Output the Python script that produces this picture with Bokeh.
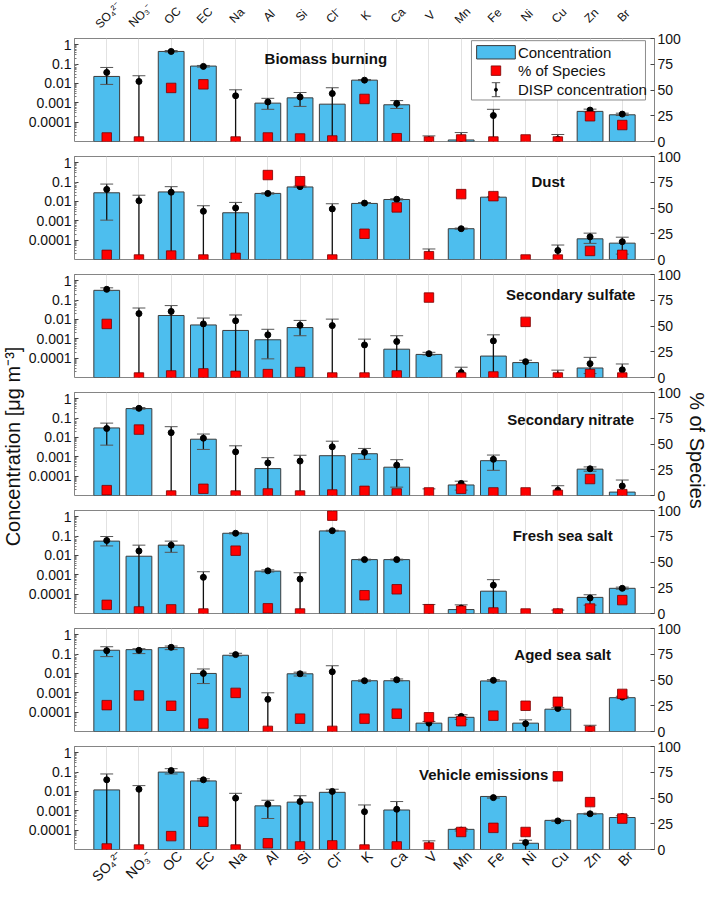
import math
import numpy as np
from bokeh.plotting import figure
from bokeh.models import (Range1d, LinearScale, LinearAxis, FixedTicker, Grid,
                          CustomJSTickFormatter, Label, ColumnDataSource)
from bokeh.layouts import column, row
from bokeh.embed import file_html
from bokeh.resources import INLINE
from bokeh.core.properties import value

N = float("nan")

# ---------------- data ----------------
species = ["SO₄²⁻", "NO₃⁻", "OC", "EC", "Na", "Al", "Si", "Cl⁻", "K", "Ca",
           "V", "Mn", "Fe", "Ni", "Cu", "Zn", "Br"]
conc_ticks = [0.0001, 0.001, 0.01, 0.1, 1]
pct_ticks = [0, 25, 50, 75, 100]
legend_labels = ["Concentration", "% of Species", "DISP concentration"]

# Biomass burning
bb_conc = [0.023, N, 0.45, 0.079, N, 0.00096, 0.0018, 0.00085, 0.0148, 0.00079, N, 1.2e-5, N, N, N, 0.00036, 0.00024]
bb_disp = [0.037, 0.0127, 0.45, 0.076, 0.0023, 0.0011, 0.0020, 0.0030, 0.0148, 0.00093, 1.2e-5, 1.4e-5, 0.00022, N, 1.3e-5, 0.00042, 0.00026]
bb_lo = [0.0089, N, 0.42, 0.07, N, 0.00046, 0.00065, N, 0.0140, 0.00051, N, N, N, N, N, 0.00034, 0.00022]
bb_hi = [0.067, 0.025, 0.50, 0.085, 0.0047, 0.0017, 0.0034, 0.006, 0.0160, 0.0013, 1.95e-5, 2.9e-5, 0.00046, N, 2.3e-5, 0.00047, 0.00029]
bb_pct = [3.9, 0, 52, 55.5, 0, 3.9, 2.9, 1, 41.3, 3.2, 0, 2, 0, 2, 0, 24.5, 16]

# Dust
du_conc = [0.028, N, 0.031, N, 0.0026, 0.026, 0.056, N, 0.0079, 0.0126, N, 0.00039, 0.0166, N, N, 0.000117, 7.0e-5]
du_disp = [0.042, 0.0108, 0.030, 0.0031, 0.0046, 0.026, 0.058, 0.0041, 0.0082, 0.013, 1.5e-5, 0.00039, 0.0166, N, 2.9e-5, 0.000148, 8.3e-5]
du_lo = [0.00108, N, N, N, N, 0.024, 0.054, N, 0.0078, 0.012, N, 0.00037, 0.0158, N, N, 6.8e-5, 1.9e-5]
du_hi = [0.079, 0.021, 0.058, 0.006, 0.0089, 0.028, 0.062, 0.0076, 0.0088, 0.0138, 3.5e-5, 0.00042, 0.0175, N, 5.6e-5, 0.00023, 0.000142]
du_pct = [4.5, 0, 3.8, 0, 1.6, 82, 76, 0, 25, 50.6, 3.2, 63.5, 61.5, 0, 0, 8.3, 4.5]

# Secondary sulfate
ss_conc = [0.32, N, 0.016, 0.0052, 0.0027, 0.00089, 0.0038, N, N, 0.00029, 0.000156, N, 0.000128, 5.9e-5, N, 3.1e-5, N]
ss_disp = [0.36, 0.020, 0.026, 0.0059, 0.0085, 0.0016, 0.005, 0.0048, 0.00048, 0.00072, 0.00017, 1.8e-5, 0.00078, 6.6e-5, 1.2e-5, 5.2e-5, 2.5e-5]
ss_lo = [0.31, N, N, N, N, 9.2e-5, 0.00144, N, N, N, 0.000145, N, N, N, N, 1.6e-5, N]
ss_hi = [0.43, 0.039, 0.052, 0.0118, 0.017, 0.0031, 0.0089, 0.0104, 0.00096, 0.00144, 0.00020, 3.4e-5, 0.0016, 7.8e-5, 2.4e-5, 0.00011, 5e-5]
ss_pct = [52, 0, 2, 4, 1.6, 3.3, 5.3, 0, 0, 2, 77.6, 0, 1, 54, 0, 3.3, 0]

# Secondary nitrate
sn_conc = [0.031, 0.31, N, 0.0081, N, 0.000246, N, 0.00114, 0.00144, 0.00029, N, 3.5e-5, 0.00063, N, N, 0.00023, 1.5e-5]
sn_disp = [0.029, 0.32, 0.0177, 0.0091, 0.0018, 0.00048, 0.0006, 0.0033, 0.0017, 0.00037, 1.6e-5, 4.2e-5, 0.00074, N, 1.85e-5, 0.00024, 3.1e-5]
sn_lo = [0.004, 0.29, N, 0.0024, N, N, N, N, 0.00074, 2.7e-5, N, 1.9e-5, 0.0002, N, N, 0.00018, N]
sn_hi = [0.055, 0.35, 0.036, 0.015, 0.0037, 0.0009, 0.0012, 0.0064, 0.0027, 0.00071, 2.2e-5, 5.5e-5, 0.00123, N, 3.2e-5, 0.0003, 6.3e-5]
sn_pct = [5.2, 64, 0, 6.5, 0, 2, 0, 1, 4.5, 2, 3, 6.5, 3, 3, 0.6, 16, 1.3]

# Fresh sea salt
fs_conc = [0.055, 0.0091, 0.034, N, 0.14, 0.00155, N, 0.185, 0.0061, 0.0061, N, 1.6e-5, 0.000142, N, N, 6.8e-5, 0.0002]
fs_disp = [0.059, 0.017, 0.034, 0.00074, 0.14, 0.0016, 0.0006, 0.19, 0.0061, 0.0061, 1.5e-5, 1.9e-5, 0.00029, N, 1.2e-5, 6.3e-5, 0.0002]
fs_lo = [0.031, N, 0.0145, N, 0.13, 0.0014, N, 0.18, 0.0058, 0.0058, N, N, N, N, N, 2.7e-5, 0.00018]
fs_hi = [0.095, 0.034, 0.055, 0.00144, 0.15, 0.0018, 0.00128, 0.20, 0.0064, 0.0064, 2.9e-5, 2.8e-5, 0.00056, N, 1.5e-5, 9.3e-5, 0.00023]
fs_pct = [8.4, 2, 4, 0, 61, 5, 0, 95, 17.7, 23.5, 4.2, 2.6, 1, 0, 0, 4.8, 13]

# Aged sea salt
as_conc = [0.158, 0.17, 0.215, 0.01, 0.087, N, 0.0096, N, 0.0042, 0.0042, 2.7e-5, 5.4e-5, 0.0041, 2.7e-5, 0.000142, N, 0.00056]
as_disp = [0.15, 0.157, 0.224, 0.01, 0.094, 0.00046, 0.0096, 0.0122, 0.0042, 0.0047, 2.7e-5, 6e-5, 0.0044, 2.5e-5, 0.000155, 1.3e-5, 0.0006]
as_lo = [0.074, 0.106, 0.17, 0.003, 0.081, N, 0.0074, N, 0.0038, 0.0042, N, 4.2e-5, 0.0040, N, 0.00014, N, 0.00054]
as_hi = [0.24, 0.19, 0.26, 0.017, 0.11, 0.001, 0.0116, 0.025, 0.0046, 0.0052, 3.3e-5, 7.3e-5, 0.0048, 4.0e-5, 0.00017, 2.1e-5, 0.00066]
as_pct = [25.6, 35, 25, 7.7, 37.5, 0.6, 12.5, 0.6, 12.5, 17.3, 13.8, 10, 15.4, 25, 28.8, 0.6, 36.5]

# Vehicle emissions
ve_conc = [0.012, N, 0.1, 0.035, N, 0.0018, 0.0028, 0.009, N, 0.0011, N, 0.00011, 0.0055, 2.1e-5, 0.00032, 0.0007, 0.00045]
ve_disp = [0.04, 0.013, 0.12, 0.04, 0.0045, 0.0022, 0.003, 0.01, 0.0009, 0.0012, 1.5e-5, 0.0001, 0.0048, 2.3e-5, 0.0003, 0.0007, 0.0005]
ve_lo = [N, N, 0.08, 0.035, N, 0.0004, N, N, N, N, N, 9e-5, 0.0045, N, 0.00028, 0.00065, 0.00045]
ve_hi = [0.08, 0.02, 0.15, 0.045, 0.008, 0.0035, 0.006, 0.013, 0.002, 0.003, 2.8e-5, 0.00012, 0.0052, 3e-5, 0.00033, 0.00075, 0.00055]
ve_pct = [1, 0, 13, 27, 0, 6, 3, 4, 0, 3, 2, 17, 21, 17, 71, 46, 30]

panels = [
    ("Biomass burning", bb_conc, bb_disp, bb_lo, bb_hi, bb_pct),
    ("Dust", du_conc, du_disp, du_lo, du_hi, du_pct),
    ("Secondary sulfate", ss_conc, ss_disp, ss_lo, ss_hi, ss_pct),
    ("Secondary nitrate", sn_conc, sn_disp, sn_lo, sn_hi, sn_pct),
    ("Fresh sea salt", fs_conc, fs_disp, fs_lo, fs_hi, fs_pct),
    ("Aged sea salt", as_conc, as_disp, as_lo, as_hi, as_pct),
    ("Vehicle emissions", ve_conc, ve_disp, ve_lo, ve_hi, ve_pct),
]

# ---------------- layout / style ----------------
# title placement (x in category units, y in % units)
title_pos = [(7.8, 81), (14.7, 76), (15.4, 81), (15.4, 74), (15.15, 75.5), (15.15, 75), (12.7, 73)]
# hand-built legend frame in panel 1 (x in category units, y in % units)
LEG_BOX = dict(left=12.32, right=17.72, bottom=40.3, top=97.9)
LEG_ROWS = [86.6, 68.8, 50.3]
LEG_GX, LEG_TX = 13.08, 13.76

FONT = "Liberation Sans"
FRAME_W, FRAME_H = 580, 103
PX_PER_UNIT = FRAME_W / 18.0
BAR_COLOR = "#4DBEEE"
EDGE = "#3c3c3c"
FRAME_COL = "#858585"
FLOOR = 1e-5
LEFT_W, RIGHT_W = 25, 26
BORDER_L, BORDER_R = 46, 27
HEAD_H = 30
TOP_B, MID_T, MID_B, BOT_B = 8, 8, 7, 33
TOP_FS, CAT_FS = 12, 14

minor = [m * 10.0 ** d for d in range(-5, 1) for m in range(2, 10) if m * 10.0 ** d < 2.1]


def est_w(s, fs):
    w = 0.0
    for c in s:
        if c.isascii() and c.isupper():
            w += 0.6 * fs
        elif c.isascii():
            w += 0.5 * fs
        else:
            w += 0.3 * fs
    return w


def bottom_label_axis():
    # rotated category labels; each tick nudged so the rotated word sits centred on its column
    ticks = [i + 1 + 0.08 + 0.354 * est_w(s, CAT_FS) / PX_PER_UNIT
             for i, s in enumerate(species)]
    ax = LinearAxis(ticker=FixedTicker(ticks=ticks),
                    major_label_overrides={t: s for t, s in zip(ticks, species)},
                    major_label_orientation=math.pi / 4)
    ax.axis_line_color = None
    ax.major_tick_line_color = None
    ax.minor_tick_line_color = None
    ax.major_tick_in = 0
    ax.major_tick_out = 0
    ax.major_label_text_font = FONT
    ax.major_label_text_font_size = f"{CAT_FS}px"
    ax.major_label_text_color = "#111111"
    ax.major_label_standoff = 4
    return ax


def make_header():
    h = figure(frame_width=FRAME_W, frame_height=HEAD_H,
               x_range=Range1d(0, 18), y_range=Range1d(0, HEAD_H),
               x_axis_type=None, y_axis_type=None, output_backend="svg",
               toolbar_location=None, min_border_left=BORDER_L,
               min_border_right=BORDER_R, min_border_top=0, min_border_bottom=0)
    h.outline_line_color = None
    for i, s in enumerate(species):
        h.add_layout(Label(x=i + 1 + 0.04, y=HEAD_H / 2, text=s, angle=math.pi / 4,
                           text_align="center", text_baseline="middle",
                           text_font=FONT, text_font_size=f"{TOP_FS}px",
                           text_color="#111111"))
    return h


def make_panel(k, title, conc, disp, lo, hi, pct):
    top = k == 0
    bottom = k == len(panels) - 1
    p = figure(frame_width=FRAME_W, frame_height=FRAME_H,
               x_range=Range1d(0, 18), y_range=Range1d(FLOOR, 2.1),
               x_axis_type=None, y_axis_type="log",
               output_backend="svg", toolbar_location=None,
               min_border_left=BORDER_L, min_border_right=BORDER_R,
               min_border_top=TOP_B if top else MID_T,
               min_border_bottom=BOT_B if bottom else MID_B)
    p.outline_line_color = FRAME_COL
    p.outline_line_width = 1
    p.extra_y_ranges = {"pct": Range1d(0, 100)}
    p.extra_y_scales = {"pct": LinearScale()}

    p.add_layout(Grid(dimension=0, ticker=FixedTicker(ticks=list(range(1, len(species) + 1))),
                      grid_line_color="#e2e2e2"))
    p.ygrid.grid_line_color = None
    if bottom:
        p.add_layout(bottom_label_axis(), "below")

    ya = p.yaxis[0]
    ya.ticker = FixedTicker(ticks=conc_ticks, minor_ticks=minor)
    ya.formatter = CustomJSTickFormatter(code="return tick.toString();")
    ya.axis_line_color = None
    ya.major_tick_in = 4
    ya.major_tick_out = 0
    ya.minor_tick_in = 2
    ya.minor_tick_out = 0
    ya.major_tick_line_color = "#444444"
    ya.minor_tick_line_color = "#777777"
    ya.major_label_text_font = FONT
    ya.major_label_text_font_size = "14px"
    ya.major_label_text_color = "#111111"
    ya.major_label_standoff = 3

    ra = LinearAxis(y_range_name="pct", ticker=FixedTicker(ticks=pct_ticks))
    ra.axis_line_color = None
    ra.major_tick_in = 4
    ra.major_tick_out = 0
    ra.minor_tick_line_color = None
    ra.major_tick_line_color = "#444444"
    ra.major_label_text_font = FONT
    ra.major_label_text_font_size = "14px"
    ra.major_label_text_color = "#111111"
    ra.major_label_standoff = 3
    p.add_layout(ra, "right")

    xs = np.arange(1, len(species) + 1, dtype=float)
    lo_a = np.array(lo, dtype=float)
    hi_a = np.array(hi, dtype=float)
    src = ColumnDataSource(dict(
        x=xs, conc=np.array(conc, dtype=float), disp=np.array(disp, dtype=float),
        stem_lo=np.where(np.isnan(lo_a), FLOOR / 10, lo_a), lo=lo_a, hi=hi_a,
        cl=xs - 0.2, cr=xs + 0.2, pct=np.array(pct, dtype=float)))

    p.vbar(x="x", top="conc", bottom=FLOOR, width=0.8, source=src,
           fill_color=BAR_COLOR, line_color=EDGE, line_width=1)
    p.segment(x0="x", y0="stem_lo", x1="x", y1="hi", source=src,
              line_color="#111111", line_width=1.3)
    p.segment(x0="cl", y0="hi", x1="cr", y1="hi", source=src,
              line_color="#555555", line_width=1)
    p.segment(x0="cl", y0="lo", x1="cr", y1="lo", source=src,
              line_color="#555555", line_width=1)
    p.scatter(x="x", y="disp", source=src, size=6, fill_color="black",
              line_color="black")
    p.scatter(x="x", y="pct", source=src, y_range_name="pct", marker="square",
              size=9.5, fill_color="#ff0000", line_color="#7a0000", line_width=0.8)

    tx, ty = title_pos[k]
    p.add_layout(Label(x=tx, y=ty, y_range_name="pct", text=title,
                       text_font=FONT, text_font_style="bold",
                       text_font_size="15px", text_align="center",
                       text_baseline="middle", text_color="#111111"))

    if top:
        # legend box drawn with glyphs so the error-bar symbol matches
        p.quad(y_range_name="pct", fill_color="white", line_color="#8c8c8c",
               line_width=1, **LEG_BOX)
        gx = LEG_GX
        p.quad(left=gx - 0.6, right=gx + 0.6, bottom=LEG_ROWS[0] - 6.5,
               top=LEG_ROWS[0] + 6.5, y_range_name="pct",
               fill_color=BAR_COLOR, line_color=EDGE, line_width=1)
        p.scatter(x=[gx], y=[LEG_ROWS[1]], y_range_name="pct", marker="square",
                  size=9.5, fill_color="#ff0000", line_color="#7a0000", line_width=0.8)
        r3 = LEG_ROWS[2]
        p.segment(x0=[gx], y0=[r3 - 6.8], x1=[gx], y1=[r3 + 6.8],
                  y_range_name="pct", line_color="#111111", line_width=1.2)
        p.segment(x0=[gx - 0.13, gx - 0.13], y0=[r3 - 6.8, r3 + 6.8],
                  x1=[gx + 0.13, gx + 0.13], y1=[r3 - 6.8, r3 + 6.8],
                  y_range_name="pct", line_color="#555555", line_width=1)
        p.scatter(x=[gx], y=[r3], y_range_name="pct", size=3,
                  fill_color="black", line_color="black")
        p.text(x=[LEG_TX] * 3, y=LEG_ROWS, text=legend_labels, y_range_name="pct",
               text_font=value(FONT), text_font_size="15px", text_color="#111111",
               text_align="left", text_baseline="middle")
    return p


header = make_header()
figs = [make_panel(k, *pn) for k, pn in enumerate(panels)]

H = HEAD_H + (TOP_B + FRAME_H + MID_B) + (len(panels) - 2) * (MID_T + FRAME_H + MID_B) \
    + (MID_T + FRAME_H + BOT_B)

lf = figure(width=LEFT_W, height=H, x_range=Range1d(0, 1), y_range=Range1d(0, H),
            x_axis_type=None, y_axis_type=None, toolbar_location=None,
            output_backend="svg", min_border=0)
lf.outline_line_color = None
lf.text(x=[0.5], y=[H - 446], text=["Concentration [μg m⁻³]"], angle=math.pi / 2,
        text_align="center", text_baseline="middle", text_font=value(FONT),
        text_font_size="20px", text_color="#111111")

rf = figure(width=RIGHT_W, height=H, x_range=Range1d(0, 1), y_range=Range1d(0, H),
            x_axis_type=None, y_axis_type=None, toolbar_location=None,
            output_backend="svg", min_border=0)
rf.outline_line_color = None
rf.text(x=[0.5], y=[H - 450], text=["% of Species"], angle=-math.pi / 2,
        text_align="center", text_baseline="middle", text_font=value(FONT),
        text_font_size="20px", text_color="#111111")

layout = row(lf, column(header, *figs), rf)
open("out.html", "w").write(file_html(layout, INLINE))
